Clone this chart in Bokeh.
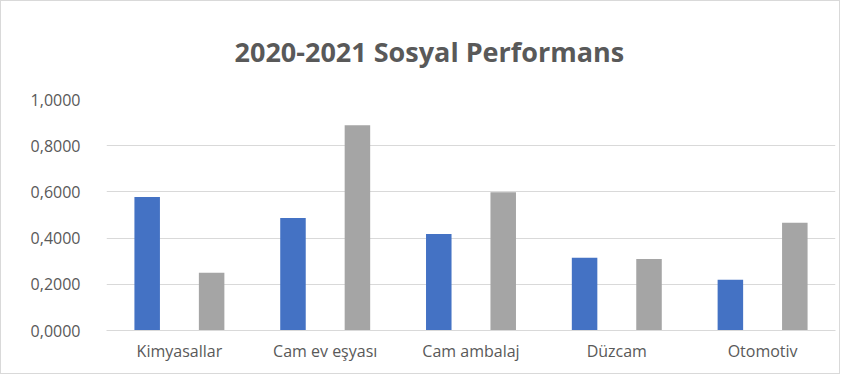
from bokeh.plotting import figure
from bokeh.models import ColumnDataSource, Title, FixedTicker, FactorRange, Range1d
from bokeh.transform import dodge
from bokeh.embed import file_html
from bokeh.resources import INLINE

categories = ["Kimyasallar", "Cam ev eşyası", "Cam ambalaj", "Düzcam", "Otomotiv"]
values_2020 = [0.578, 0.487, 0.418, 0.315, 0.220]
values_2021 = [0.250, 0.888, 0.599, 0.310, 0.466]
y_ticks = [0.0, 0.2, 0.4, 0.6, 0.8, 1.0]
y_tick_labels = ["0,0000", "0,2000", "0,4000", "0,6000", "0,8000", "1,0000"]
title_text = "2020-2021 Sosyal Performans"

FONT = "Open Sans"
TXT = "#595959"

src = ColumnDataSource(dict(cat=categories, v20=values_2020, v21=values_2021))

p = figure(x_range=FactorRange(*categories, range_padding=0), y_range=Range1d(0, 1.0),
           width=840, height=374, output_backend="svg", toolbar_location=None,
           min_border_left=105, min_border_right=6, min_border_top=97, min_border_bottom=45)
p.styles = {"border": "1px solid #d9d9d9"}
p.outline_line_color = None

p.vbar(x=dodge("cat", -0.221, range=p.x_range), top="v20", width=0.175, source=src,
       color="#4472C4", line_color=None)
p.vbar(x=dodge("cat", 0.221, range=p.x_range), top="v21", width=0.175, source=src,
       color="#A5A5A5", line_color=None)

p.xgrid.grid_line_color = None
p.ygrid.grid_line_color = "#d9d9d9"
p.ygrid.grid_line_width = 1

p.yaxis.ticker = FixedTicker(ticks=y_ticks)
p.yaxis.major_label_overrides = {t: l for t, l in zip(y_ticks, y_tick_labels)}
p.yaxis.axis_line_color = None
p.yaxis.major_tick_line_color = None
p.yaxis.minor_tick_line_color = None
p.yaxis.major_label_standoff = 20
p.yaxis.major_label_text_font = FONT
p.yaxis.major_label_text_font_size = "16px"
p.yaxis.major_label_text_color = TXT

p.xaxis.axis_line_color = "#d9d9d9"
p.xaxis.major_tick_line_color = None
p.xaxis.minor_tick_line_color = None
p.xaxis.major_label_standoff = 3
p.xaxis.major_label_text_font = FONT
p.xaxis.major_label_text_font_size = "16px"
p.xaxis.major_label_text_color = TXT

p.title = Title(text=title_text, align="left", text_font=FONT, text_font_size="27px",
                text_color=TXT, text_font_style="bold", standoff=59, offset=128)

open("out.html", "w").write(file_html(p, INLINE))
